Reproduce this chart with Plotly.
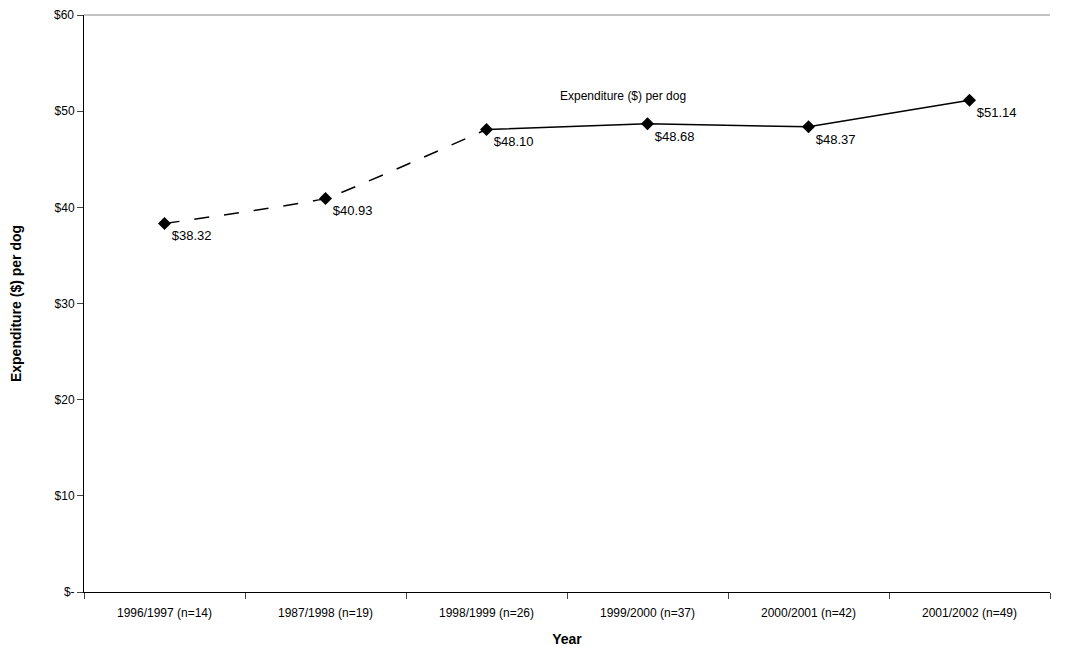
import plotly.graph_objects as go

years = ["1996/1997 (n=14)", "1987/1998 (n=19)", "1998/1999 (n=26)",
         "1999/2000 (n=37)", "2000/2001 (n=42)", "2001/2002 (n=49)"]
spend = [38.32, 40.93, 48.10, 48.68, 48.37, 51.14]
labels = ["$%.2f" % v for v in spend]
y_ticks = [0, 10, 20, 30, 40, 50, 60]
y_tick_text = ["$-", "$10", "$20", "$30", "$40", "$50", ""]

fig = go.Figure()
# dashed part for the first three years
fig.add_trace(go.Scatter(
    x=years[:3], y=spend[:3], mode="lines",
    line=dict(color="black", width=1.5, dash="longdash", shape="spline", smoothing=0.3),
    hoverinfo="skip"))
# solid part afterwards
fig.add_trace(go.Scatter(
    x=years[2:], y=spend[2:], mode="lines",
    line=dict(color="black", width=1.5), hoverinfo="skip"))
fig.add_trace(go.Scatter(
    x=years, y=spend, mode="markers+text",
    marker=dict(symbol="diamond", size=10, color="black"),
    text=labels, textposition="bottom right",
    textfont=dict(family="Liberation Sans, Arial", size=13, color="black")))

fig.add_annotation(x=2.85, y=51.6, text="Expenditure ($) per dog", showarrow=False,
                   font=dict(family="Liberation Sans, Arial", size=12, color="black"))
# top tick label drawn separately so it is not clipped by the small top margin
fig.add_annotation(xref="paper", x=0, xanchor="right", xshift=-8, y=60, yanchor="middle",
                   text="$60", showarrow=False, font=dict(size=12, color="black"))

fig.update_layout(
    width=1076, height=649, showlegend=False,
    plot_bgcolor="white", paper_bgcolor="white",
    margin=dict(l=76, r=34, t=7, b=65, autoexpand=False),
    font=dict(family="Liberation Sans, Arial", size=12, color="black"),
    shapes=[dict(type="line", xref="paper", yref="paper", x0=0, x1=1, y0=1, y1=1,
                 line=dict(color="#888888", width=1))],
)
fig.update_xaxes(type="category", tickson="boundaries", ticks="outside", ticklen=6,
                 showline=True, linecolor="black", showgrid=False, automargin=False,
                 ticklabelstandoff=10,
                 title=dict(text="<b>Year</b>", standoff=14),
                 range=[-0.5, 5.5])
fig.update_yaxes(range=[0, 60], tickvals=y_ticks, ticktext=y_tick_text,
                 ticks="outside", ticklen=6, showline=True, linecolor="black",
                 showgrid=False, zeroline=False, automargin=False,
                 title=dict(text="<b>Expenditure ($) per dog</b>", standoff=34))

fig.write_html("out.html")
